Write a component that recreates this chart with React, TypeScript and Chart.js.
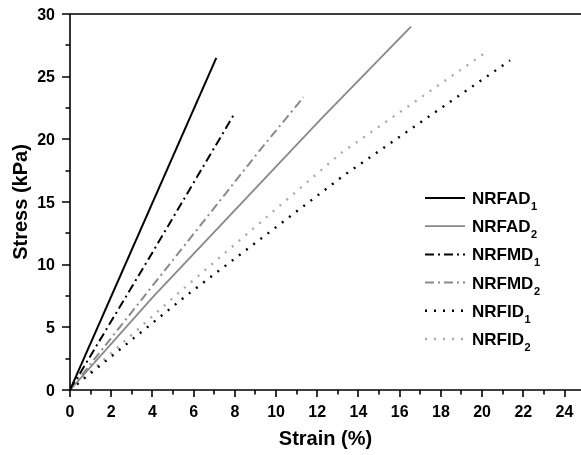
import React, { useEffect, useRef } from "react";
import { Chart, registerables } from "chart.js";

Chart.register(...registerables);

// ---- data ----
const seriesNames = ["NRFAD", "NRFAD", "NRFMD", "NRFMD", "NRFID", "NRFID"];
const seriesSubs = ["1", "2", "1", "2", "1", "2"];

const nrfad1Strain = [0, 7.1];
const nrfad1Stress = [0, 26.5];
const nrfad2Strain = [0, 4.04, 12.14, 16.55];
const nrfad2Stress = [0, 7.45, 21.55, 29.0];
const nrfmd1Strain = [0, 3.88, 8.0];
const nrfmd1Stress = [0, 10.64, 22.1];
const nrfmd2Strain = [0, 9.22, 11.33];
const nrfmd2Stress = [0, 19.14, 23.36];
const nrfid1Strain = [0, 5.58, 13.32, 21.36];
const nrfid1Stress = [0, 7.45, 17.16, 26.3];
const nrfid2Strain = [0, 5.34, 13.14, 20.23];
const nrfid2Stress = [0, 7.85, 18.89, 27.0];

const xTickValues = [0, 2, 4, 6, 8, 10, 12, 14, 16, 18, 20, 22, 24];
const xMinorValues = [1, 3, 5, 7, 9, 11, 13, 15, 17, 19, 21, 23];
const yTickValues = [0, 5, 10, 15, 20, 25, 30];
const yMinorValues = [2.5, 7.5, 12.5, 17.5, 22.5, 27.5];

const xTitle = "Strain (%)";
const yTitle = "Stress (kPa)";

const strainSets = [nrfad1Strain, nrfad2Strain, nrfmd1Strain, nrfmd2Strain, nrfid1Strain, nrfid2Strain];
const stressSets = [nrfad1Stress, nrfad2Stress, nrfmd1Stress, nrfmd2Stress, nrfid1Stress, nrfid2Stress];

const colors = ["#000000", "#888888", "#000000", "#8a8a8a", "#000000", "#aaaaaa"];
const dashes: number[][] = [[], [], [9, 4, 2, 4], [9, 4, 2, 4], [2, 7], [2, 7]];
const widths = [2, 1.8, 2, 2, 2.4, 2.4];

const FONT = "'Liberation Sans', Arial, sans-serif";

const axesPlugin = {
  id: "customAxes",
  afterDraw(chart: any) {
    const ctx = chart.ctx as CanvasRenderingContext2D;
    const { left, right, top, bottom } = chart.chartArea;
    const xs = chart.scales.x;
    const ys = chart.scales.y;
    ctx.save();
    ctx.strokeStyle = "#000";
    ctx.lineWidth = 1.6;
    ctx.setLineDash([]);
    ctx.beginPath();
    ctx.moveTo(left, top);
    ctx.lineTo(left, bottom);
    ctx.moveTo(left, bottom);
    ctx.lineTo(right, bottom);
    ctx.moveTo(left, top);
    ctx.lineTo(right, top);
    yTickValues.forEach((v) => {
      const p = Math.round(ys.getPixelForValue(v));
      ctx.moveTo(left - 8, p);
      ctx.lineTo(left, p);
    });
    yMinorValues.forEach((v) => {
      const p = Math.round(ys.getPixelForValue(v));
      ctx.moveTo(left - 4.5, p);
      ctx.lineTo(left, p);
    });
    xTickValues.forEach((v) => {
      const p = Math.round(xs.getPixelForValue(v));
      ctx.moveTo(p, bottom);
      ctx.lineTo(p, bottom + 7);
    });
    xMinorValues.forEach((v) => {
      const p = Math.round(xs.getPixelForValue(v));
      ctx.moveTo(p, bottom);
      ctx.lineTo(p, bottom + 4.5);
    });
    ctx.stroke();

    ctx.fillStyle = "#000";
    ctx.font = `bold 16px ${FONT}`;
    ctx.textAlign = "right";
    ctx.textBaseline = "alphabetic";
    yTickValues.forEach((v) => {
      const p = ys.getPixelForValue(v);
      ctx.fillText(String(v), left - 15, p + 5.8);
    });
    ctx.textAlign = "center";
    xTickValues.forEach((v) => {
      const p = xs.getPixelForValue(v);
      ctx.fillText(String(v), p, bottom + 27);
    });

    ctx.font = `bold 20px ${FONT}`;
    ctx.textAlign = "center";
    ctx.fillText(xTitle, (left + right) / 2, bottom + 55);
    ctx.save();
    ctx.translate(27, (top + bottom) / 2);
    ctx.rotate(-Math.PI / 2);
    ctx.fillText(yTitle, 0, 0);
    ctx.restore();

    const lx0 = 425;
    const lx1 = 465;
    const tx = 472;
    const y0 = 198;
    const step = 28.2;
    chart.data.datasets.forEach((ds: any, i: number) => {
      const y = y0 + i * step;
      ctx.beginPath();
      ctx.strokeStyle = ds.borderColor;
      ctx.lineWidth = ds.borderWidth;
      ctx.setLineDash(ds.borderDash || []);
      ctx.moveTo(lx0, y);
      ctx.lineTo(lx1, y);
      ctx.stroke();
      ctx.setLineDash([]);
      ctx.fillStyle = "#000";
      ctx.textAlign = "left";
      ctx.font = `bold 17px ${FONT}`;
      const name = seriesNames[i];
      ctx.fillText(name, tx, y + 6);
      const w = ctx.measureText(name).width;
      ctx.font = `bold 11px ${FONT}`;
      ctx.fillText(seriesSubs[i], tx + w + 0.5, y + 12);
    });
    ctx.restore();
  },
};

export default function App() {
  const ref = useRef<HTMLCanvasElement | null>(null);
  useEffect(() => {
    if (!ref.current) return;
    const datasets = strainSets.map((xsArr, i) => ({
      label: seriesNames[i] + seriesSubs[i],
      data: xsArr.map((x, j) => ({ x, y: stressSets[i][j] })),
      borderColor: colors[i],
      backgroundColor: colors[i],
      borderWidth: widths[i],
      borderDash: dashes[i],
      pointRadius: 0,
      tension: 0,
      fill: false,
    }));
    const chart = new Chart(ref.current, {
      type: "line",
      data: { datasets },
      options: {
        animation: false,
        responsive: false,
        devicePixelRatio: 1,
        layout: { padding: { left: 70, top: 14, right: 0, bottom: 65 } },
        plugins: { legend: { display: false }, tooltip: { enabled: false } },
        scales: {
          x: { type: "linear", min: 0, max: 24.8, display: false },
          y: { type: "linear", min: 0, max: 30, display: false },
        },
      },
      plugins: [axesPlugin],
    } as any);
    return () => chart.destroy();
  }, []);
  return (
    <div style={{ position: "absolute", left: 0, top: 0, width: 581, height: 455, background: "#fff" }}>
      <canvas ref={ref} width={581} height={455} />
    </div>
  );
}
